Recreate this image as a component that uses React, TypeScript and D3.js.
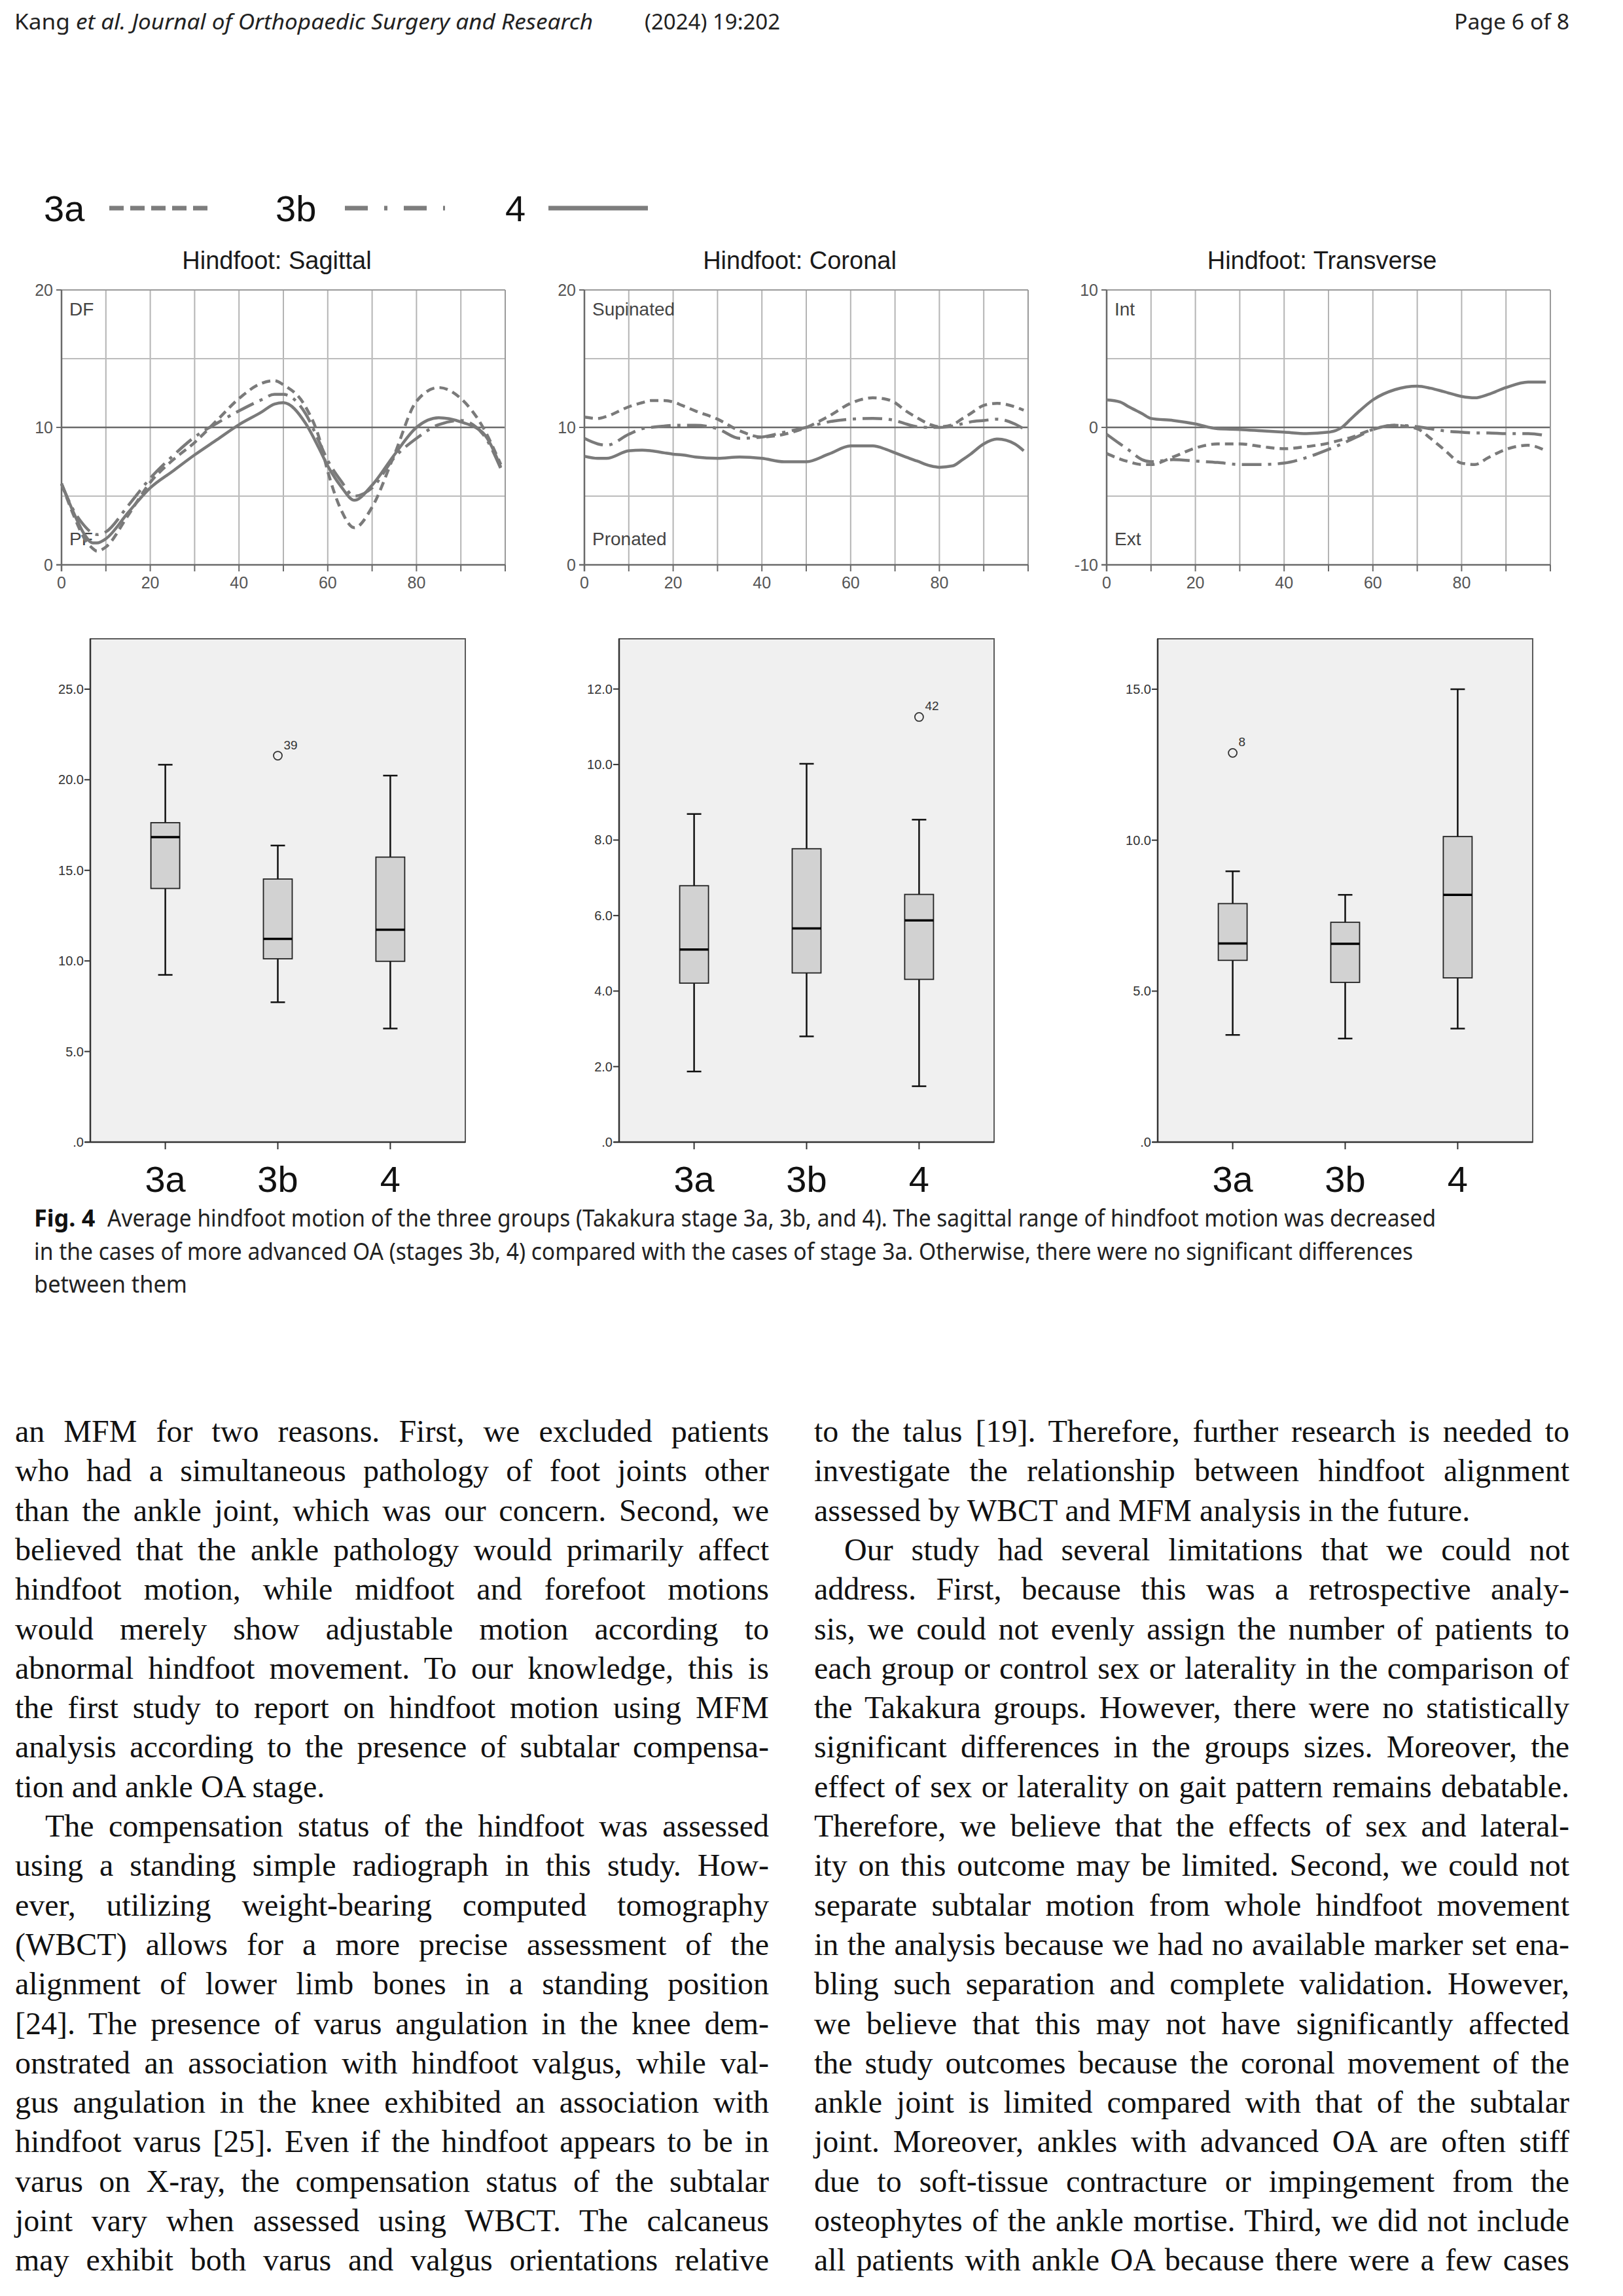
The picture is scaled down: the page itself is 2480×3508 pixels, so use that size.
import React, { useEffect, useRef } from 'react';
import * as d3 from 'd3';

const W = 2480;
const H = 3508;

const groups = ['3a', '3b', '4'];

// ---------- gait curves (percent of gait cycle) ----------
const sagittalX = [0, 3, 5, 7, 8, 10, 15, 20, 25, 30, 35, 40, 45, 48, 50, 55, 58, 60, 63, 66, 70, 75, 80, 85, 90, 95, 99];
const sagittal3a = [5.9, 3.4, 2.0, 1.2, 1.0, 1.3, 3.6, 6.0, 7.6, 8.9, 10.5, 12.1, 13.2, 13.4, 13.1, 11.5, 9.3, 6.8, 4.0, 2.7, 4.2, 8.0, 11.9, 12.9, 12.1, 10.0, 7.3];
const sagittal3b = [5.9, 3.8, 2.9, 2.3, 2.2, 2.4, 4.3, 6.3, 7.9, 9.3, 10.3, 11.2, 12.0, 12.4, 12.4, 11.0, 9.0, 7.6, 6.1, 5.0, 5.6, 7.8, 9.2, 10.2, 10.5, 9.5, 7.0];
const sagittal4 = [5.9, 3.6, 2.3, 1.6, 1.6, 1.9, 3.8, 5.6, 6.8, 8.0, 9.1, 10.2, 11.1, 11.7, 11.8, 10.3, 8.5, 7.2, 5.7, 4.7, 5.8, 8.0, 10.0, 10.7, 10.4, 9.6, 7.1];

const coronalX = [0, 3, 5, 10, 13, 15, 18, 20, 22, 25, 30, 35, 40, 45, 50, 55, 60, 65, 68, 70, 72, 75, 78, 80, 83, 85, 87, 90, 93, 97, 99];
const coronal3a = [10.75, 10.65, 10.8, 11.5, 11.8, 11.95, 11.95, 11.85, 11.6, 11.2, 10.6, 9.75, 9.3, 9.5, 10.0, 10.8, 11.75, 12.15, 12.05, 11.8, 11.3, 10.7, 10.2, 10.05, 10.2, 10.6, 11.0, 11.6, 11.75, 11.5, 11.25];
const coronal3b = [9.2, 8.8, 8.7, 9.5, 9.9, 10.0, 10.1, 10.15, 10.15, 10.15, 9.9, 9.2, 9.3, 9.65, 10.0, 10.4, 10.6, 10.65, 10.6, 10.5, 10.3, 10.05, 10.0, 10.0, 10.1, 10.25, 10.4, 10.5, 10.6, 10.25, 9.9];
const coronal4 = [7.9, 7.75, 7.75, 8.3, 8.35, 8.3, 8.15, 8.05, 8.0, 7.85, 7.75, 7.85, 7.75, 7.5, 7.5, 8.05, 8.65, 8.65, 8.4, 8.15, 7.9, 7.55, 7.2, 7.1, 7.2, 7.6, 8.05, 8.8, 9.15, 8.8, 8.3];

const transverseX = [0, 3, 5, 8, 10, 15, 20, 25, 30, 35, 40, 45, 50, 53, 55, 57, 60, 65, 70, 73, 76, 80, 83, 86, 90, 95, 99];
const transverse3a = [-1.9, -2.3, -2.5, -2.7, -2.7, -2.15, -1.5, -1.2, -1.2, -1.4, -1.55, -1.4, -1.15, -0.9, -0.75, -0.5, -0.15, 0.15, -0.1, -0.8, -1.6, -2.6, -2.7, -2.2, -1.6, -1.3, -1.7];
const transverse3b = [-0.5, -1.2, -1.65, -2.35, -2.5, -2.35, -2.45, -2.55, -2.7, -2.7, -2.6, -2.2, -1.6, -1.2, -0.9, -0.6, -0.15, 0.15, 0.05, -0.1, -0.25, -0.35, -0.4, -0.4, -0.45, -0.45, -0.6];
const transverse4 = [2.0, 1.85, 1.5, 1.0, 0.65, 0.5, 0.25, -0.1, -0.15, -0.25, -0.35, -0.45, -0.35, 0.0, 0.6, 1.2, 2.0, 2.75, 3.0, 2.85, 2.6, 2.25, 2.15, 2.4, 2.9, 3.3, 3.3];

const gaitXTicks = [0, 20, 40, 60, 80];

// ---------- box plots: [lowWhisker, q1, median, q3, highWhisker] ----------
const sagittalBoxes = [
  [9.23, 14.0, 16.83, 17.63, 20.83],
  [7.72, 10.12, 11.22, 14.52, 16.37],
  [6.27, 9.98, 11.72, 15.73, 20.23],
];
const sagittalOutliers = [{ group: '3b', value: 21.33, label: '39' }];
const sagittalBoxTicks = [0, 5, 10, 15, 20, 25];

const coronalBoxes = [
  [1.87, 4.21, 5.1, 6.79, 8.69],
  [2.8, 4.48, 5.66, 7.77, 10.02],
  [1.48, 4.31, 5.87, 6.56, 8.54],
];
const coronalOutliers = [{ group: '4', value: 11.26, label: '42' }];
const coronalBoxTicks = [0, 2, 4, 6, 8, 10, 12];

const transverseBoxes = [
  [3.55, 6.02, 6.58, 7.9, 8.97],
  [3.43, 5.29, 6.57, 7.28, 8.19],
  [3.76, 5.44, 8.19, 10.12, 15.0],
];
const transverseOutliers = [{ group: '3a', value: 12.89, label: '8' }];
const transverseBoxTicks = [0, 5, 10, 15];

// ---------- text ----------
const leftColumn = [
  'an MFM for two reasons. First, we excluded patients',
  'who had a simultaneous pathology of foot joints other',
  'than the ankle joint, which was our concern. Second, we',
  'believed that the ankle pathology would primarily affect',
  'hindfoot motion, while midfoot and forefoot motions',
  'would merely show adjustable motion according to',
  'abnormal hindfoot movement. To our knowledge, this is',
  'the first study to report on hindfoot motion using MFM',
  'analysis according to the presence of subtalar compensa-',
  '$tion and ankle OA stage.',
  '>The compensation status of the hindfoot was assessed',
  'using a standing simple radiograph in this study. How-',
  'ever, utilizing weight-bearing computed tomography',
  '(WBCT) allows for a more precise assessment of the',
  'alignment of lower limb bones in a standing position',
  '[24]. The presence of varus angulation in the knee dem-',
  'onstrated an association with hindfoot valgus, while val-',
  'gus angulation in the knee exhibited an association with',
  'hindfoot varus [25]. Even if the hindfoot appears to be in',
  'varus on X-ray, the compensation status of the subtalar',
  'joint vary when assessed using WBCT. The calcaneus',
  'may exhibit both varus and valgus orientations relative',
];
const rightColumn = [
  'to the talus [19]. Therefore, further research is needed to',
  'investigate the relationship between hindfoot alignment',
  '$assessed by WBCT and MFM analysis in the future.',
  '>Our study had several limitations that we could not',
  'address. First, because this was a retrospective analy-',
  'sis, we could not evenly assign the number of patients to',
  'each group or control sex or laterality in the comparison of',
  'the Takakura groups. However, there were no statistically',
  'significant differences in the groups sizes. Moreover, the',
  'effect of sex or laterality on gait pattern remains debatable.',
  'Therefore, we believe that the effects of sex and lateral-',
  'ity on this outcome may be limited. Second, we could not',
  'separate subtalar motion from whole hindfoot movement',
  'in the analysis because we had no available marker set ena-',
  'bling such separation and complete validation. However,',
  'we believe that this may not have significantly affected',
  'the study outcomes because the coronal movement of the',
  'ankle joint is limited compared with that of the subtalar',
  'joint. Moreover, ankles with advanced OA are often stiff',
  'due to soft-tissue contracture or impingement from the',
  'osteophytes of the ankle mortise. Third, we did not include',
  'all patients with ankle OA because there were a few cases',
];

const SANS = 'Liberation Sans, Arial, sans-serif';
const HUMAN = '"Noto Sans", "Open Sans", sans-serif';
const SERIF = '"Liberation Serif", "Times New Roman", serif';

const LINE_COLOR = '#7a7a7a';
const dashFor: Record<string, string | undefined> = {
  '3a': '13 8',
  '3b': '30 10 5 10',
  '4': undefined,
};

type GaitProps = {
  x0: number; y0: number; w: number; h: number;
  xs: number[]; series: number[][]; yDomain: [number, number];
  yLabels: number[]; title: string; hiLabel: string; loLabel: string;
};

function GaitPanel({ x0, y0, w, h, xs, series, yDomain, yLabels, title, hiLabel, loLabel }: GaitProps) {
  const xScale = d3.scaleLinear().domain([0, 100]).range([x0, x0 + w]);
  const yScale = d3.scaleLinear().domain(yDomain).range([y0 + h, y0]);
  const mid = (yDomain[0] + yDomain[1]) / 2;
  const hGrid = d3.range(yDomain[0] + 5, yDomain[1], 5).filter((v) => v !== mid);
  const vGrid = d3.range(10, 100, 10);
  const vTicks = d3.range(0, 101, 10);
  const makeLine = (ys: number[]) =>
    d3.line<number>()
      .x((_, i) => xScale(xs[i]))
      .y((d) => yScale(d))
      .curve(d3.curveMonotoneX)(ys) || '';
  return (
    <g>
      <text x={xScale(50) - 10} y={y0 - 32} textAnchor="middle" fontFamily={SANS} fontSize={38} fill="#1a1a1a">{title}</text>
      {vGrid.map((v) => (
        <line key={'v' + v} x1={xScale(v)} x2={xScale(v)} y1={y0} y2={y0 + h} stroke="#b4b4b4" strokeWidth={2} />
      ))}
      {hGrid.map((v) => (
        <line key={'h' + v} x1={x0} x2={x0 + w} y1={yScale(v)} y2={yScale(v)} stroke="#bcbcbc" strokeWidth={2} />
      ))}
      <line x1={x0} x2={x0 + w} y1={yScale(mid)} y2={yScale(mid)} stroke="#6a6a6a" strokeWidth={2.5} />
      <line x1={x0} x2={x0 + w} y1={y0} y2={y0} stroke="#9a9a9a" strokeWidth={2} />
      <line x1={x0 + w} x2={x0 + w} y1={y0} y2={y0 + h} stroke="#9a9a9a" strokeWidth={2} />
      <line x1={x0} x2={x0} y1={y0} y2={y0 + h + 10} stroke="#6a6a6a" strokeWidth={2.5} />
      <line x1={x0 - 8} x2={x0 + w} y1={y0 + h} y2={y0 + h} stroke="#6a6a6a" strokeWidth={2.5} />
      {vTicks.map((v) => (
        <line key={'t' + v} x1={xScale(v)} x2={xScale(v)} y1={y0 + h} y2={y0 + h + 10} stroke="#6a6a6a" strokeWidth={2} />
      ))}
      {yLabels.map((v) => (
        <g key={'yl' + v}>
          <line x1={x0 - 8} x2={x0} y1={yScale(v)} y2={yScale(v)} stroke="#6a6a6a" strokeWidth={2} />
          <text x={x0 - 13} y={yScale(v) + 9} textAnchor="end" fontFamily={SANS} fontSize={25} fill="#555">{v}</text>
        </g>
      ))}
      {gaitXTicks.map((v) => (
        <text key={'xl' + v} x={xScale(v)} y={y0 + h + 36} textAnchor="middle" fontFamily={SANS} fontSize={25} fill="#555">{v}</text>
      ))}
      <text x={x0 + 12} y={y0 + 39} fontFamily={SANS} fontSize={28} fill="#444">{hiLabel}</text>
      <text x={x0 + 12} y={y0 + h - 30} fontFamily={SANS} fontSize={28} fill="#444">{loLabel}</text>
      {[2, 1, 0].map((gi) => (
        <path key={groups[gi]} d={makeLine(series[gi])} fill="none" stroke={LINE_COLOR}
          strokeWidth={4.5} strokeDasharray={dashFor[groups[gi]]} strokeLinecap="butt" />
      ))}
    </g>
  );
}

type BoxProps = {
  x0: number; y0: number; w: number; h: number; yMax: number;
  ticks: number[]; stats: number[][]; outliers: { group: string; value: number; label: string }[];
};

function BoxPanel({ x0, y0, w, h, yMax, ticks, stats, outliers }: BoxProps) {
  const xScale = d3.scalePoint<string>().domain(groups).range([x0, x0 + w]).padding(2 / 3);
  const yScale = d3.scaleLinear().domain([0, yMax]).range([y0 + h, y0]);
  const bw = 44;
  const cap = 22;
  const fmt = (v: number) => (v === 0 ? '.0' : v.toFixed(1));
  return (
    <g>
      <rect x={x0} y={y0} width={w} height={h} fill="#f0f0f0" stroke="#5a5a5a" strokeWidth={2} />
      <line x1={x0} x2={x0} y1={y0} y2={y0 + h} stroke="#333" strokeWidth={2.5} />
      <line x1={x0 - 8} x2={x0 + w} y1={y0 + h} y2={y0 + h} stroke="#333" strokeWidth={2.5} />
      {ticks.map((t) => (
        <g key={t}>
          <line x1={x0 - 9} x2={x0} y1={yScale(t)} y2={yScale(t)} stroke="#333" strokeWidth={2} />
          <text x={x0 - 10} y={yScale(t) + 7} textAnchor="end" fontFamily={SANS} fontSize={20} fill="#333">{fmt(t)}</text>
        </g>
      ))}
      {groups.map((g, i) => {
        const cx = xScale(g) as number;
        const [lo, q1, md, q3, hi] = stats[i];
        return (
          <g key={g}>
            <line x1={cx} x2={cx} y1={y0 + h} y2={y0 + h + 11} stroke="#333" strokeWidth={2} />
            <text x={cx} y={y0 + h + 76} textAnchor="middle" fontFamily={SANS} fontSize={56} fill="#111">{g}</text>
            <line x1={cx} x2={cx} y1={yScale(hi)} y2={yScale(q3)} stroke="#111" strokeWidth={2.5} />
            <line x1={cx} x2={cx} y1={yScale(q1)} y2={yScale(lo)} stroke="#111" strokeWidth={2.5} />
            <line x1={cx - cap / 2} x2={cx + cap / 2} y1={yScale(hi)} y2={yScale(hi)} stroke="#111" strokeWidth={2.5} />
            <line x1={cx - cap / 2} x2={cx + cap / 2} y1={yScale(lo)} y2={yScale(lo)} stroke="#111" strokeWidth={2.5} />
            <rect x={cx - bw / 2} y={yScale(q3)} width={bw} height={yScale(q1) - yScale(q3)} fill="#d2d2d2" stroke="#222" strokeWidth={1.8} />
            <line x1={cx - bw / 2} x2={cx + bw / 2} y1={yScale(md)} y2={yScale(md)} stroke="#000" strokeWidth={3.5} />
          </g>
        );
      })}
      {outliers.map((o) => {
        const cx = xScale(o.group) as number;
        const cy = yScale(o.value);
        return (
          <g key={o.label}>
            <circle cx={cx} cy={cy} r={6.5} fill="none" stroke="#333" strokeWidth={1.8} />
            <text x={cx + 9} y={cy - 10} fontFamily={SANS} fontSize={19} fill="#333">{o.label}</text>
          </g>
        );
      })}
    </g>
  );
}

function Legend() {
  const y = 318;
  const items = [
    { g: '3a', tx: 67, lx0: 167, lx1: 317, dash: '22 10' },
    { g: '3b', tx: 421, lx0: 527, lx1: 680, dash: '35 25 5 25' },
    { g: '4', tx: 772, lx0: 838, lx1: 990, dash: undefined as string | undefined },
  ];
  return (
    <g>
      {items.map((it) => (
        <g key={it.g}>
          <text x={it.tx} y={338} fontFamily={SANS} fontSize={56} fill="#111">{it.g}</text>
          <line x1={it.lx0} x2={it.lx1} y1={y} y2={y} stroke="#7d7d7d" strokeWidth={7} strokeDasharray={it.dash} />
        </g>
      ))}
    </g>
  );
}

function Column({ lines, x, width }: { lines: string[]; x: number; width: number }) {
  const indent = 46;
  return (
    <g>
      {lines.map((raw, i) => {
        let t = raw;
        let ind = 0;
        let last = false;
        if (t.startsWith('>')) { t = t.slice(1); ind = indent; }
        if (t.startsWith('$')) { t = t.slice(1); last = true; }
        const y = 2203 + i * 60.3;
        return (
          <text key={i} className={last ? '' : 'just'} data-w={width - ind} x={x + ind} y={y}
            fontFamily={SERIF} fontSize={48} fill="#111" style={{ whiteSpace: 'pre' }}>{t}</text>
        );
      })}
    </g>
  );
}

export default function App() {
  const ref = useRef<SVGSVGElement>(null);
  useEffect(() => {
    if (!ref.current) return;
    const root = d3.select(ref.current);
    root.selectAll<SVGTextElement, unknown>('text.just').each(function () {
      const el = this;
      el.style.wordSpacing = '0px';
      el.removeAttribute('textLength');
      el.removeAttribute('lengthAdjust');
      const target = +(el.getAttribute('data-w') || 0);
      const len = el.getComputedTextLength();
      const spaces = ((el.textContent || '').match(/ /g) || []).length;
      const extra = (target - len) / Math.max(1, spaces);
      if (extra >= -3) {
        el.style.wordSpacing = extra + 'px';
      } else {
        el.setAttribute('textLength', String(target));
        el.setAttribute('lengthAdjust', 'spacingAndGlyphs');
      }
    });
    root.selectAll<SVGTextElement, unknown>('text.fit').each(function () {
      const el = this;
      el.removeAttribute('textLength');
      const target = +(el.getAttribute('data-w') || 0);
      const len = el.getComputedTextLength();
      if (Math.abs(len - target) > 2) {
        el.setAttribute('textLength', String(target));
        el.setAttribute('lengthAdjust', 'spacingAndGlyphs');
      }
    });
  }, []);

  const plotTop = 443;
  const plotH = 420;
  const plotW = 678;
  const boxTop = 976;
  const boxH = 769;
  const boxW = 573;

  return (
    <svg ref={ref} width={W} height={H} viewBox={`0 0 ${W} ${H}`}
      style={{ position: 'absolute', left: 0, top: 0, background: '#fff' }}>
      <rect x={0} y={0} width={W} height={H} fill="#fff" />
      {/* header */}
      <text className="fit" data-w={884} x={22} y={45} fontFamily={HUMAN} fontSize={33} fill="#222">
        <tspan>Kang </tspan>
        <tspan fontStyle="italic">et al. Journal of Orthopaedic Surgery and Research</tspan>
      </text>
      <text className="fit" data-w={207} x={985} y={45} fontFamily={HUMAN} fontSize={33} fill="#222">(2024) 19:202</text>
      <text className="fit" data-w={176} x={2222} y={45} fontFamily={HUMAN} fontSize={33} fill="#222">Page 6 of 8</text>

      <Legend />

      <GaitPanel x0={94} y0={plotTop} w={plotW} h={plotH} xs={sagittalX}
        series={[sagittal3a, sagittal3b, sagittal4]} yDomain={[0, 20]} yLabels={[0, 10, 20]}
        title="Hindfoot: Sagittal" hiLabel="DF" loLabel="PF" />
      <GaitPanel x0={893} y0={plotTop} w={plotW} h={plotH} xs={coronalX}
        series={[coronal3a, coronal3b, coronal4]} yDomain={[0, 20]} yLabels={[0, 10, 20]}
        title="Hindfoot: Coronal" hiLabel="Supinated" loLabel="Pronated" />
      <GaitPanel x0={1691} y0={plotTop} w={plotW} h={plotH} xs={transverseX}
        series={[transverse3a, transverse3b, transverse4]} yDomain={[-10, 10]} yLabels={[-10, 0, 10]}
        title="Hindfoot: Transverse" hiLabel="Int" loLabel="Ext" />

      <BoxPanel x0={138} y0={boxTop} w={boxW} h={boxH} yMax={27.78} ticks={sagittalBoxTicks}
        stats={sagittalBoxes} outliers={sagittalOutliers} />
      <BoxPanel x0={946} y0={boxTop} w={boxW} h={boxH} yMax={13.33} ticks={coronalBoxTicks}
        stats={coronalBoxes} outliers={coronalOutliers} />
      <BoxPanel x0={1769} y0={boxTop} w={boxW} h={boxH} yMax={16.67} ticks={transverseBoxTicks}
        stats={transverseBoxes} outliers={transverseOutliers} />

      {/* caption */}
      <text className="fit" data-w={92} x={52} y={1874} fontFamily={HUMAN} fontSize={36} fontWeight="bold" fill="#111">Fig. 4</text>
      <text className="fit" data-w={2030} x={164} y={1874} fontFamily={HUMAN} fontSize={36} fill="#222">Average hindfoot motion of the three groups (Takakura stage 3a, 3b, and 4). The sagittal range of hindfoot motion was decreased</text>
      <text className="fit" data-w={2107} x={52} y={1925} fontFamily={HUMAN} fontSize={36} fill="#222">in the cases of more advanced OA (stages 3b, 4) compared with the cases of stage 3a. Otherwise, there were no significant differences</text>
      <text className="fit" data-w={234} x={52} y={1975} fontFamily={HUMAN} fontSize={36} fill="#222">between them</text>

      <Column lines={leftColumn} x={23} width={1152} />
      <Column lines={rightColumn} x={1244} width={1154} />
    </svg>
  );
}
